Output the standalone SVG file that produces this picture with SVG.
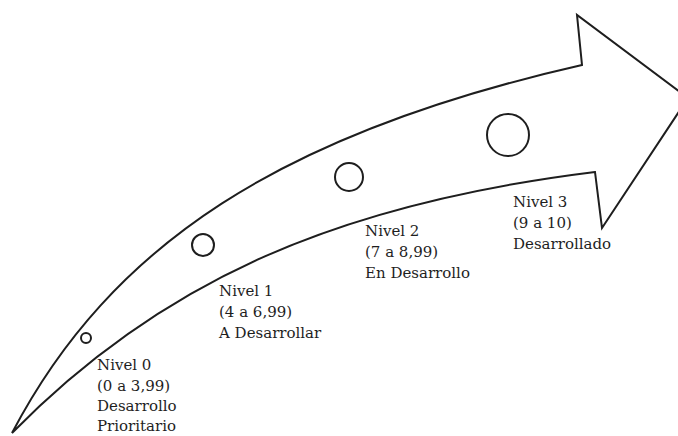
<svg xmlns="http://www.w3.org/2000/svg" width="678" height="436" viewBox="0 0 678 436">
<style>
.ln{fill:none;stroke:#1e1e1e;stroke-width:2;stroke-linejoin:miter}
.c{fill:none;stroke:#1e1e1e;stroke-width:2}
text{font-family:"DejaVu Serif","Liberation Serif",serif;font-size:15px;fill:#1e1e1e}
</style>
<rect width="678" height="436" fill="#fff"/>
<g id="arrow">
<path class="ln" d="M12,433 C111,244 282,133 582,65 L577,15 L688,98 L602,228 L595,172 C335,204 160,282 12,433 Z"/>
</g>
<g id="nivel0">
<circle class="c" cx="86" cy="338" r="5"/>
<text x="97" y="370">Nivel 0</text>
<text x="97" y="390.5">(0 a 3,99)</text>
<text x="97" y="411">Desarrollo</text>
<text x="97" y="431">Prioritario</text>
</g>
<g id="nivel1">
<circle class="c" cx="203" cy="245" r="11"/>
<text x="219" y="296">Nivel 1</text>
<text x="219" y="317">(4 a 6,99)</text>
<text x="219" y="338">A Desarrollar</text>
</g>
<g id="nivel2">
<circle class="c" cx="349" cy="177" r="14"/>
<text x="365" y="236">Nivel 2</text>
<text x="365" y="257">(7 a 8,99)</text>
<text x="365" y="278">En Desarrollo</text>
</g>
<g id="nivel3">
<circle class="c" cx="508" cy="135" r="21"/>
<text x="513" y="207">Nivel 3</text>
<text x="513" y="228">(9 a 10)</text>
<text x="513" y="249">Desarrollado</text>
</g>
</svg>
